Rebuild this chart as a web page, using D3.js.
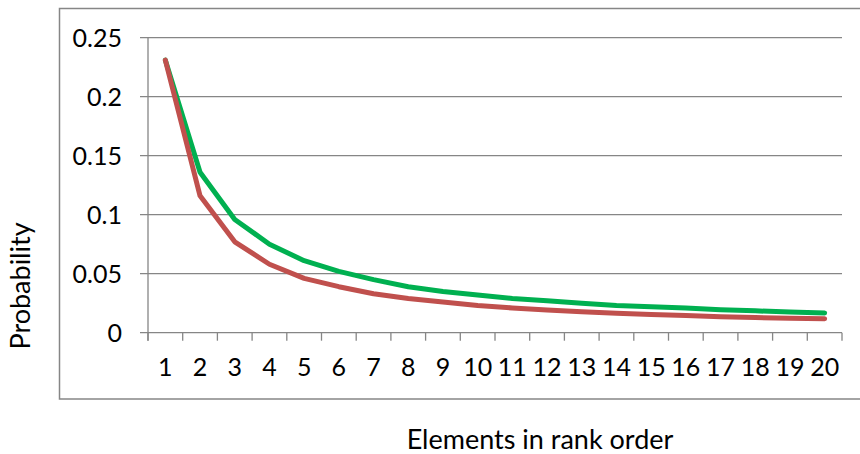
<!DOCTYPE html>
<html lang="en">
<head>
    <meta charset="UTF-8">
    <script src="https://d3js.org/d3.v7.min.js"></script>
    <title>Rank order probability</title>
    <style>
        body { margin: 0; background: #fff; }
        text { font-family: Lato, "Open Sans", sans-serif; fill: #000; }
    </style>
</head>
<body>
    <script>
        var w = 860;
        var h = 454;

        // data
        var ranks = [1, 2, 3, 4, 5, 6, 7, 8, 9, 10, 11, 12, 13, 14, 15, 16, 17, 18, 19, 20];
        var greenValues = [0.231, 0.136, 0.096, 0.075, 0.061, 0.052, 0.045, 0.039, 0.035, 0.032,
                           0.029, 0.027, 0.025, 0.023, 0.022, 0.021, 0.0195, 0.0185, 0.0176, 0.0168];
        var redValues = [0.231, 0.116, 0.077, 0.058, 0.046, 0.039, 0.033, 0.029, 0.026, 0.023,
                         0.021, 0.0193, 0.0178, 0.0165, 0.0155, 0.0145, 0.0136, 0.0128, 0.0122, 0.0118];
        var yTicks = [0, 0.05, 0.1, 0.15, 0.2, 0.25];
        var yTickLabels = ["0", "0.05", "0.1", "0.15", "0.2", "0.25"];

        var plotLeft = 148, plotRight = 842, plotTop = 37.7, plotBottom = 332.7;
        var grey = "#868686";

        var x = d3.scaleBand()
                  .domain(ranks)
                  .range([plotLeft, plotRight]);

        var y = d3.scaleLinear()
                  .domain([0, 0.25])
                  .range([plotBottom, plotTop]);

        var svg = d3.select("body")
                    .append("svg")
                    .attr("width", w)
                    .attr("height", h);

        // plot area border
        svg.append("rect")
           .attr("x", 59.5)
           .attr("y", 8.5)
           .attr("width", 805)
           .attr("height", 390.5)
           .attr("fill", "none")
           .attr("stroke", grey)
           .attr("stroke-width", 1.5);

        // gridlines
        svg.selectAll("line.grid")
           .data(yTicks)
           .enter()
           .append("line")
           .attr("class", "grid")
           .attr("x1", plotLeft - 8)
           .attr("x2", plotRight)
           .attr("y1", function(d) { return y(d); })
           .attr("y2", function(d) { return y(d); })
           .attr("stroke", grey)
           .attr("stroke-width", 1.3);

        // y axis labels
        svg.selectAll("text.ylab")
           .data(yTicks)
           .enter()
           .append("text")
           .attr("class", "ylab")
           .attr("x", 122)
           .attr("y", function(d) { return y(d); })
           .attr("dy", "0.36em")
           .attr("text-anchor", "end")
           .style("font-size", "25px")
           .text(function(d, i) { return yTickLabels[i]; });

        // y axis line
        svg.append("line")
           .attr("x1", plotLeft).attr("x2", plotLeft)
           .attr("y1", y(0.25)).attr("y2", plotBottom + 8)
           .attr("stroke", grey)
           .attr("stroke-width", 1.3);

        // x axis: ticks between categories
        var boundaries = ranks.map(function(d) { return x(d); }).concat([x(20) + x.bandwidth()]);
        svg.selectAll("line.xtick")
           .data(boundaries)
           .enter()
           .append("line")
           .attr("class", "xtick")
           .attr("x1", function(d) { return d; })
           .attr("x2", function(d) { return d; })
           .attr("y1", plotBottom)
           .attr("y2", plotBottom + 8)
           .attr("stroke", grey)
           .attr("stroke-width", 1.3);

        svg.selectAll("text.xlab")
           .data(ranks)
           .enter()
           .append("text")
           .attr("class", "xlab")
           .attr("x", function(d) { return x(d) + x.bandwidth() / 2; })
           .attr("y", 366.5)
           .attr("dy", "0.36em")
           .attr("text-anchor", "middle")
           .style("font-size", "25px")
           .text(function(d) { return d; });

        var line = d3.line()
                     .x(function(d, i) { return x(ranks[i]) + x.bandwidth() / 2; })
                     .y(function(d) { return y(d); });

        svg.append("path")
           .datum(greenValues)
           .attr("d", line)
           .attr("fill", "none")
           .attr("stroke", "#00B050")
           .attr("stroke-width", 5)
           .attr("stroke-linejoin", "round")
           .attr("stroke-linecap", "round");

        svg.append("path")
           .datum(redValues)
           .attr("d", line)
           .attr("fill", "none")
           .attr("stroke", "#C0504D")
           .attr("stroke-width", 5)
           .attr("stroke-linejoin", "round")
           .attr("stroke-linecap", "round");

        // axis titles
        svg.append("text")
           .attr("x", 540)
           .attr("y", 449)
           .attr("text-anchor", "middle")
           .style("font-size", "27px")
           .text("Elements in rank order");

        svg.append("text")
           .attr("transform", "translate(30, 286) rotate(-90)")
           .attr("text-anchor", "middle")
           .style("font-size", "27px")
           .text("Probability");
    </script>
</body>
</html>
